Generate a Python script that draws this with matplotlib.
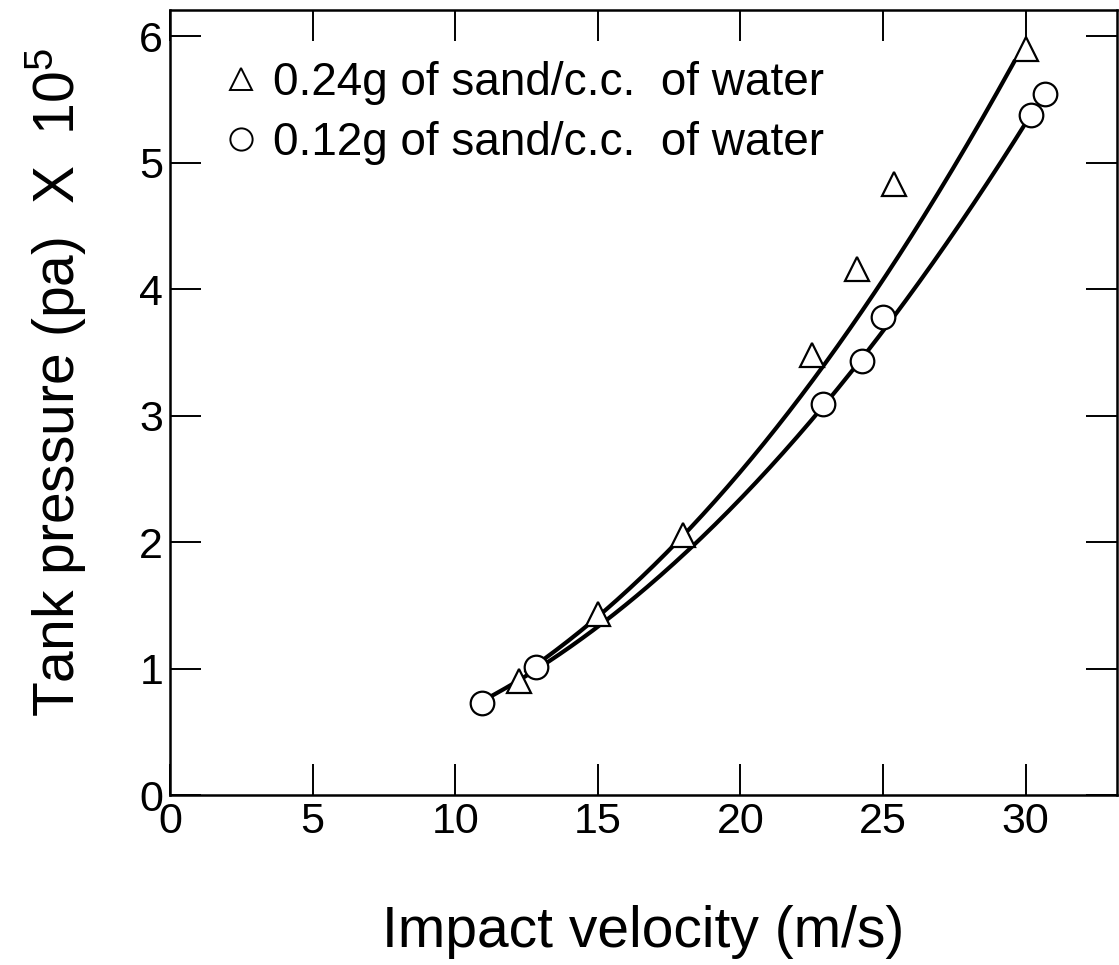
import numpy as np
import matplotlib
matplotlib.use("Agg")
import matplotlib.pyplot as plt
from matplotlib.lines import Line2D

plt.rcParams['font.family'] = ['Liberation Sans', 'DejaVu Sans']
plt.rcParams['mathtext.fontset'] = 'custom'
plt.rcParams['mathtext.rm'] = 'Liberation Sans'
plt.rcParams['mathtext.it'] = 'Liberation Sans'

# measured points, 0.24 g sand / cc water (triangles)
vel_hi = [12.25, 15.0, 18.0, 22.5, 24.1, 25.4, 30.0]
prs_hi = [0.90, 1.43, 2.06, 3.48, 4.16, 4.83, 5.90]

# measured points, 0.12 g sand / cc water (circles)
vel_lo = [10.95, 12.85, 22.9, 24.25, 25.0, 30.2, 30.7]
prs_lo = [0.73, 1.01, 3.09, 3.43, 3.78, 5.38, 5.54]

# points
curve_hi_x = [12.5, 15.0, 18.0, 20.7, 22.85, 26.55, 29.6]
curve_hi_y = [0.95, 1.45, 2.06, 2.73, 3.39, 4.58, 5.82]
curve_lo_x = [11.0, 12.9, 21.75, 22.9, 25.0, 28.2, 30.0]
curve_lo_y = [0.74, 1.02, 2.73, 3.09, 3.68, 4.71, 5.29]

fig = plt.figure(figsize=(11.19, 9.65), dpi=100)
ax = fig.add_axes([0.152, 0.176, 0.846, 0.814])

# smooth fit curves through the read points
for cx, cy in ((curve_hi_x, curve_hi_y), (curve_lo_x, curve_lo_y)):
    p = np.polyfit(cx, cy, 2)
    xs = np.linspace(cx[0], cx[-1], 200)
    ax.plot(xs, np.polyval(p, xs), color='black', lw=3.0, zorder=2)

ax.plot(vel_hi, prs_hi, ls='none', marker='^', ms=17, mfc='white',
        mec='black', mew=1.6, zorder=3)
ax.plot(vel_lo, prs_lo, ls='none', marker='o', ms=17, mfc='white',
        mec='black', mew=1.6, zorder=3)

ax.set_xlim(0, 33.2)
ax.set_ylim(0, 6.21)
ax.set_xticks([0, 5, 10, 15, 20, 25, 30])
ax.set_yticks([0, 1, 2, 3, 4, 5, 6])
ax.tick_params(direction='in', length=22, width=1.4, labelsize=31,
               top=True, right=True, pad=5)
for s in ax.spines.values():
    s.set_linewidth(1.8)

ax.set_xlabel('Impact velocity (m/s)', fontsize=41, labelpad=45)
ax.set_ylabel('Tank pressure (pa)  X  10$^{5}$', fontsize=41, labelpad=37)
ax.yaxis.label.set_y(0.525)

handles = [
    Line2D([], [], ls='none', marker='^', ms=16, mfc='white', mec='black', mew=1.4),
    Line2D([], [], ls='none', marker='o', ms=16, mfc='white', mec='black', mew=1.4),
]
ax.legend(handles, ['0.24g of sand/c.c.  of water', '0.12g of sand/c.c.  of water'],
          loc='upper left', frameon=False, fontsize=33, handlelength=0.8,
          handletextpad=0.3, labelspacing=0.35, borderaxespad=0.3,
          bbox_to_anchor=(0.022, 0.975))

fig.savefig('out.png', dpi=100)
